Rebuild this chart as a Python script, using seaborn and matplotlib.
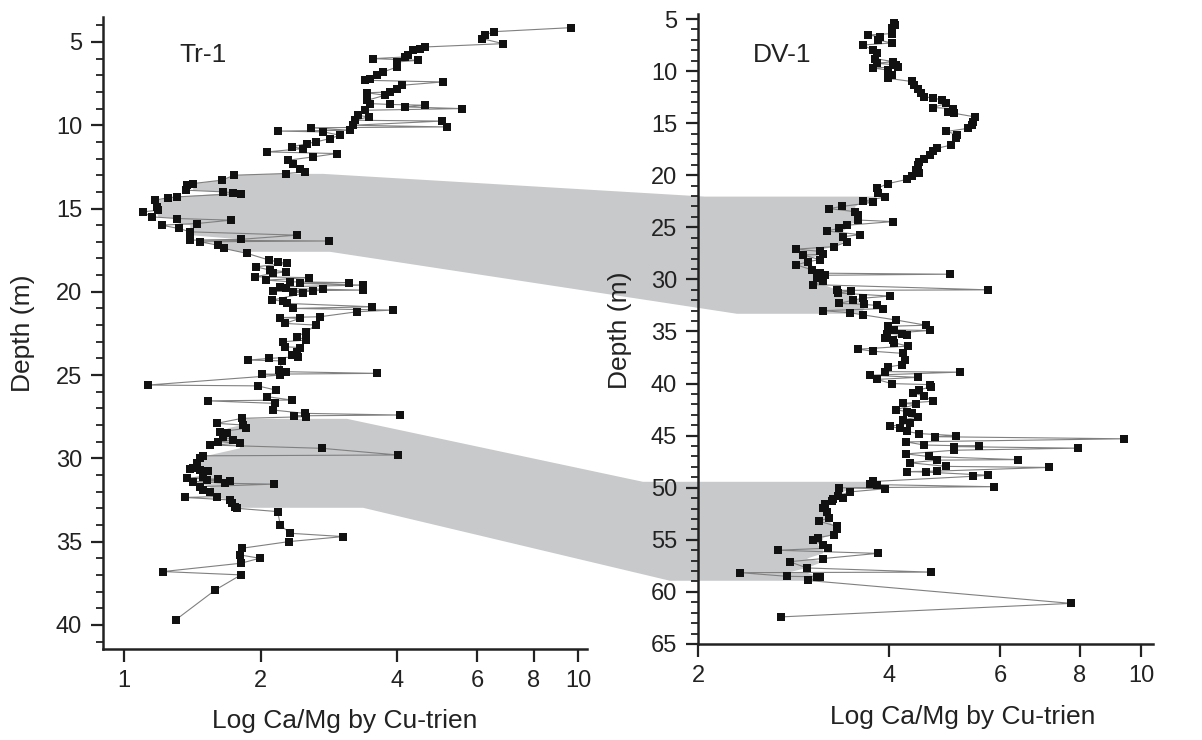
import numpy as np
import pandas as pd
import seaborn as sns
import matplotlib
matplotlib.use("Agg")
import matplotlib.pyplot as plt
from matplotlib.patches import Polygon
from matplotlib.ticker import MultipleLocator, NullLocator

# Tr-1 core: depth (m) and Ca/Mg ratio
tr1_depth = [4.14, 4.38, 4.58, 4.8, 5.1, 5.3, 5.4, 5.5, 5.8, 5.9, 6.0, 6.1, 6.2, 6.5, 6.8, 7.0, 7.2, 7.3,
             7.4, 7.6, 7.8, 8.0, 8.05, 8.2, 8.5, 8.7, 8.75, 8.8, 8.9, 9.0, 9.1, 9.4, 9.5, 9.7, 9.75,
             10.0, 10.1, 10.15, 10.3, 10.35, 10.4, 10.6, 10.8, 11.0, 11.1, 11.3, 11.4, 11.6, 11.7,
             11.9, 12.1, 12.3, 12.6, 12.8, 12.9, 13.0, 13.3, 13.5, 13.6, 13.9, 14.0, 14.05, 14.1,
             14.3, 14.35, 14.5, 14.9, 15.1, 15.2, 15.5, 15.6, 15.7, 15.9, 16.0, 16.2, 16.4, 16.6,
             16.85, 16.9, 16.95, 17.0, 17.2, 17.4, 17.7, 18.1, 18.2, 18.3, 18.5, 18.7, 18.8, 18.9,
             19.1, 19.15, 19.3, 19.4, 19.45, 19.5, 19.6, 19.7, 19.8, 19.85, 19.9, 19.95, 19.97,
             20.0, 20.1, 20.5, 20.55, 20.7, 20.9, 21.0, 21.1, 21.2, 21.5, 21.55, 21.6, 21.9, 22.0,
             22.4, 22.7, 22.9, 23.0, 23.3, 23.35, 23.6, 23.8, 23.9, 24.0, 24.1, 24.15, 24.7, 24.8,
             24.9, 24.95, 25.0, 25.6, 25.65, 25.9, 26.3, 26.5, 26.55, 26.7, 27.1, 27.3, 27.4,
             27.45, 27.5, 27.6, 27.9, 28.0, 28.2, 28.4, 28.45, 28.7, 28.9, 29.0, 29.1, 29.2, 29.4,
             29.8, 29.85, 30.0, 30.3, 30.6, 30.65, 30.7, 30.75, 31.1, 31.2, 31.25, 31.3, 31.35,
             31.4, 31.5, 31.55, 31.7, 31.9, 32.0, 32.3, 32.35, 32.5, 32.7, 32.9, 33.0, 33.2, 34.0,
             34.5, 34.7, 35.0, 35.4, 35.8, 36.0, 36.3, 36.8, 37.0, 37.9, 39.7]
tr1_ratio = [9.65, 6.53, 6.24, 6.15, 6.84, 4.6, 4.49, 4.33, 4.22, 4.16, 3.54, 4.44, 4.0, 4.0, 3.72, 3.61,
             3.48, 3.39, 5.04, 4.09, 3.99, 3.85, 3.43, 3.76, 3.43, 3.48, 3.85, 4.6, 4.16, 5.56, 3.39,
             3.27, 3.46, 3.22, 5.02, 3.19, 5.14, 2.58, 3.14, 2.18, 2.75, 2.99, 2.84, 2.65, 2.53, 2.34,
             2.48, 2.07, 2.94, 2.61, 2.30, 2.36, 2.44, 2.50, 2.27, 1.75, 1.64, 1.42, 1.38, 1.37, 1.65,
             1.74, 1.81, 1.31, 1.25, 1.17, 1.18, 1.19, 1.10, 1.15, 1.31, 1.72, 1.45, 1.21, 1.32, 1.40,
             2.40, 1.81, 1.40, 2.83, 1.47, 1.61, 1.66, 1.87, 2.09, 2.18, 2.29, 1.95, 2.10, 2.27, 2.13,
             1.94, 2.56, 2.06, 2.32, 3.13, 2.44, 3.36, 2.21, 2.28, 2.75, 3.36, 2.13, 2.61, 2.36, 2.48,
             2.12, 2.24, 2.29, 3.52, 2.36, 3.91, 3.26, 2.70, 2.21, 2.44, 2.26, 2.65, 2.52, 2.40, 2.52,
             2.24, 2.26, 2.44, 2.40, 2.34, 2.42, 2.09, 1.88, 2.23, 2.20, 2.28, 3.61, 2.01, 2.21, 1.13,
             1.97, 2.16, 2.07, 2.34, 1.53, 2.15, 2.13, 2.50, 4.05, 2.37, 2.52, 1.82, 1.60, 1.83, 1.86,
             1.63, 1.69, 1.65, 1.74, 1.61, 1.80, 1.55, 2.73, 4.01, 1.49, 1.47, 1.45, 1.42, 1.40, 1.47,
             1.53, 1.49, 1.38, 1.61, 1.52, 1.71, 1.42, 1.67, 2.14, 1.47, 1.49, 1.55, 1.60, 1.36, 1.71,
             1.73, 1.76, 1.77, 2.18, 2.21, 2.32, 3.04, 2.31, 1.82, 1.80, 1.99, 1.81, 1.22, 1.81, 1.59,
             1.30]

# DV-1 core
dv1_depth = [5.35, 5.58, 5.9, 6.4, 6.54, 6.7, 7.0, 7.3, 7.5, 8.0, 8.3, 8.8, 9.1, 9.25, 9.4, 9.6, 9.7,
             9.9, 10.4, 10.7, 11.0, 11.3, 11.7, 12.1, 12.5, 12.55, 12.8, 13.1, 13.5, 13.6, 13.9, 14.05,
             14.4, 14.9, 15.2, 15.5, 15.8, 16.1, 16.45, 17.1, 17.4, 17.7, 18.05, 18.4, 18.7, 19.0,
             19.5, 19.8, 20.1, 20.4, 20.8, 21.25, 21.7, 22.1, 22.5, 22.6, 23.0, 23.2, 23.5, 23.8,
             24.3, 24.45, 24.8, 25.1, 25.35, 25.7, 25.9, 26.4, 26.85, 27.1, 27.3, 27.6, 27.65, 28.1,
             28.3, 28.6, 29.1, 29.4, 29.5, 29.6, 29.9, 30.2, 30.5, 31.0, 31.05, 31.1, 31.3, 31.6,
             31.8, 32.0, 32.3, 32.4, 32.5, 32.8, 33.0, 33.2, 33.4, 33.9, 34.4, 34.5, 34.85, 34.9,
             35.2, 35.25, 35.3, 35.6, 35.8, 36.1, 36.4, 36.7, 36.9, 37.1, 37.7, 38.2, 38.4, 38.85,
             38.9, 39.2, 39.4, 39.6, 40.0, 40.1, 40.3, 40.6, 40.9, 41.2, 41.7, 41.9, 42.0, 42.5,
             42.7, 42.8, 43.2, 43.5, 43.8, 44.1, 44.3, 44.6, 44.8, 45.0, 45.1, 45.3, 45.6, 45.9,
             46.0, 46.05, 46.2, 46.4, 46.75, 47.0, 47.3, 47.35, 47.6, 47.95, 48.05, 48.4, 48.45,
             48.5, 48.8, 48.9, 49.4, 49.6, 49.7, 49.9, 50.0, 50.1, 50.4, 50.8, 51.0, 51.05, 51.3,
             51.6, 51.96, 52.3, 52.9, 53.2, 53.7, 54.0, 54.5, 54.8, 55.0, 55.5, 55.8, 56.0, 56.3,
             56.8, 57.1, 57.7, 58.1, 58.15, 58.5, 58.55, 58.6, 58.9, 61.1, 62.4]
dv1_ratio = [4.08, 4.09, 4.05, 4.04, 3.71, 3.87, 3.84, 4.04, 3.64, 3.78, 3.83, 3.81, 4.06, 3.83, 4.10,
             4.13, 3.77, 3.99, 4.05, 3.99, 4.35, 4.39, 4.44, 4.50, 4.55, 4.69, 4.85, 4.93, 4.69, 5.05,
             4.95, 5.07, 5.47, 5.43, 5.41, 5.33, 4.93, 5.13, 5.11, 5.02, 4.77, 4.69, 4.64, 4.55, 4.47,
             4.44, 4.42, 4.47, 4.35, 4.27, 3.99, 3.83, 3.84, 3.94, 3.64, 3.78, 3.37, 3.22, 3.54, 3.58,
             3.58, 4.06, 3.43, 3.34, 3.19, 3.60, 3.39, 3.43, 3.28, 2.85, 3.11, 3.15, 2.93, 3.11, 2.98,
             2.86, 3.03, 3.11, 4.99, 3.17, 3.08, 3.15, 3.04, 5.74, 3.31, 3.49, 3.32, 4.01, 3.64, 3.51,
             3.34, 3.66, 3.83, 3.92, 3.15, 3.47, 3.64, 4.11, 4.58, 3.99, 4.08, 4.64, 3.98, 4.19, 4.27,
             3.94, 4.06, 4.08, 4.29, 3.58, 3.78, 4.21, 4.24, 4.19, 3.99, 3.94, 5.18, 3.73, 4.44, 3.83,
             4.04, 4.64, 4.67, 4.47, 4.37, 4.55, 4.69, 4.21, 4.42, 4.11, 4.27, 4.35, 4.44, 4.21, 4.32,
             4.01, 4.16, 4.27, 4.47, 5.11, 4.73, 9.40, 4.26, 4.55, 5.54, 5.07, 7.95, 5.07, 4.26, 4.62,
             6.40, 4.77, 4.32, 4.93, 7.16, 4.77, 4.27, 4.58, 5.74, 5.43, 3.78, 3.73, 3.83, 5.86, 3.34,
             3.94, 3.47, 3.32, 3.39, 3.26, 3.25, 3.17, 3.15, 3.19, 3.22, 3.10, 3.31, 3.31, 3.28, 3.09,
             3.04, 3.15, 3.21, 2.67, 3.84, 3.15, 2.79, 2.97, 4.66, 2.33, 2.76, 3.08, 3.11, 2.98, 7.75,
             2.70]

# correlated intervals: (Tr-1 top, Tr-1 base, DV-1 top, DV-1 base)
bands = [(12.92, 17.6, 22.05, 33.3), (27.63, 32.97, 49.43, 58.93)]

sns.set_theme(style="ticks")
plt.rcParams["font.family"] = ["Liberation Sans", "DejaVu Sans"]
ink = "#222222"

fig = plt.figure(figsize=(12.02, 7.40), dpi=100)
ax1 = fig.add_axes([103 / 1202, 1 - 649 / 740, 484 / 1202, 632 / 740])
ax2 = fig.add_axes([698 / 1202, 1 - 644 / 740, 455 / 1202, 630 / 740])

tr = pd.DataFrame({"depth": tr1_depth, "ratio": tr1_ratio})
dv = pd.DataFrame({"depth": dv1_depth, "ratio": dv1_ratio})

for ax, df, xl, yl, ticks in [(ax1, tr, (0.899, 10.47), (41.45, 3.5), [1, 2, 4, 6, 8, 10]),
                               (ax2, dv, (2, 10.44), (65, 4.52), [2, 4, 6, 8, 10])]:
    ax.set_facecolor("none")
    ax.set_xscale("log")
    sns.lineplot(data=df, x="ratio", y="depth", sort=False, estimator=None,
                 color="#808080", linewidth=0.8, ax=ax, zorder=2)
    sns.scatterplot(data=df, x="ratio", y="depth", marker="s", s=40, color="#111111",
                    edgecolor="#111111", linewidth=0, ax=ax, zorder=3)
    ax.set_xlim(*xl)
    ax.set_ylim(*yl)
    ax.set_xticks(ticks)
    ax.set_xticklabels([str(t) for t in ticks])
    ax.xaxis.set_minor_locator(NullLocator())
    ax.yaxis.set_major_locator(MultipleLocator(5))
    ax.yaxis.set_minor_locator(MultipleLocator(1))
    ax.tick_params(which="major", direction="out", length=9, width=1.6, color=ink,
                   labelsize=17, labelcolor=ink, pad=6)
    ax.tick_params(which="minor", direction="out", length=5, width=1.3, color=ink)
    for s in ["top", "right"]:
        ax.spines[s].set_visible(False)
    for s in ["left", "bottom"]:
        ax.spines[s].set_linewidth(1.8)
        ax.spines[s].set_color(ink)
    ax.set_xlabel("Log Ca/Mg by Cu-trien", fontsize=19, color=ink)
    ax.set_ylabel("Depth (m)", fontsize=19, color=ink)

ax1.xaxis.set_label_coords(0.5, -0.095)
ax2.xaxis.set_label_coords(0.582, -0.097)
ax1.yaxis.set_label_coords(-0.14, 0.5)
ax2.yaxis.set_label_coords(-0.145, 0.498)

ax1.text(0.207, 0.94, "Tr-1", transform=ax1.transAxes, fontsize=19, color=ink,
         ha="center", va="center")
ax2.text(0.185, 0.935, "DV-1", transform=ax2.transAxes, fontsize=19, color=ink,
         ha="center", va="center")


def edge(ax, df, d0, d1):
    # smoothed core curve between two depths, in display coordinates
    med = 10 ** pd.Series(np.log10(df["ratio"].to_numpy())).rolling(5, center=True, min_periods=1).median().to_numpy()
    dep = df["depth"].to_numpy()
    inside = (dep > d0) & (dep < d1)
    d = np.r_[d0, dep[inside], d1]
    v = np.r_[np.interp(d0, dep, med), med[inside], np.interp(d1, dep, med)]
    return ax.transData.transform(np.column_stack([v, d]))


kinks = [(323, 705, 737, 330), (347, 643, 670, 363)]
for (t0, t1, v0, v1), (k1, k2, k3, k4) in zip(bands, kinks):
    left = edge(ax1, tr, t0, t1)
    right = edge(ax2, dv, v0, v1)
    pts = np.vstack([left[:1], [[k1, left[0, 1]], [k2, right[0, 1]]], right,
                     [[k3, right[-1, 1]], [k4, left[-1, 1]]], left[::-1]])
    pts = fig.transFigure.inverted().transform(pts)
    fig.patches.append(Polygon(pts, closed=True, transform=fig.transFigure,
                               facecolor="#c8c9cb", edgecolor="none", zorder=-1))

fig.savefig("out.png", dpi=100, facecolor="white")
